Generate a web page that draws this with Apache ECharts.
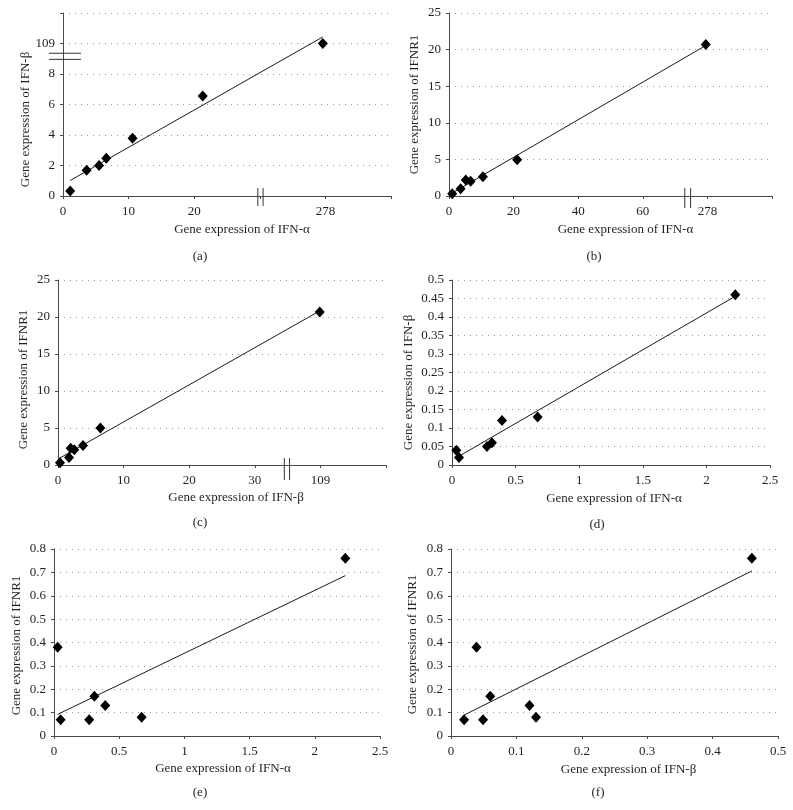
<!DOCTYPE html>
<html>
<head>
<meta charset="utf-8">
<script src="https://cdn.jsdelivr.net/npm/echarts@6/dist/echarts.min.js"></script>
<style>
html,body{margin:0;padding:0;background:#fff;}
#c{width:793px;height:810px;}
</style>
</head>
<body>
<div id="c"></div>
<script>
// ---- data ----
// (a) IFN-alpha vs IFN-beta (broken axes: x 40 -> "278", y 10 -> "109")
const xA = [1.1, 3.6, 5.5, 6.6, 10.6, 21.3, 39.6];
const yA = [0.33, 1.69, 2.0, 2.48, 3.78, 6.55, 10.0];
// (b) IFN-alpha vs IFNR1 (x 80 -> "278")
const xB = [1.0, 3.6, 5.2, 6.7, 10.5, 21.1, 79.5];
const yB = [0.32, 1.0, 2.19, 2.0, 2.64, 4.96, 20.7];
// (c) IFN-beta vs IFNR1 (x 40 -> "109")
const xC = [0.3, 1.68, 1.93, 2.49, 3.81, 6.46, 39.9];
const yC = [0.31, 1.03, 2.25, 2.07, 2.65, 4.99, 20.68];
// (d) IFN-alpha vs IFN-beta
const xD = [0.034, 0.055, 0.275, 0.314, 0.393, 0.673, 2.227];
const yD = [0.04, 0.02, 0.05, 0.06, 0.12, 0.13, 0.46];
// (e) IFN-alpha vs IFNR1
const xE = [0.028, 0.051, 0.27, 0.31, 0.393, 0.672, 2.234];
const yE = [0.38, 0.07, 0.07, 0.17, 0.13, 0.08, 0.76];
// (f) IFN-beta vs IFNR1
const xF = [0.02, 0.039, 0.049, 0.06, 0.12, 0.13, 0.46];
const yF = [0.07, 0.38, 0.07, 0.17, 0.13, 0.08, 0.76];

// tick label overrides for broken axes
const xTickA = {30: '', 40: '278', 50: ''};
const yTickA = {10: '109', 12: ''};
const xTickB = {80: '278', 100: ''};
const xTickC = {40: '109', 50: ''};

// axis-break positions (data units)
const yBreakA = [8.96, 9.36];
const xBreakA = [29.7, 30.5];
const xBreakB = [73.0, 74.8];
const xBreakC = [34.5, 35.3];

const captions = ['(a)', '(b)', '(c)', '(d)', '(e)', '(f)'];
const xNames = ['Gene expression of IFN-\u03B1', 'Gene expression of IFN-\u03B1', 'Gene expression of IFN-\u03B2',
                'Gene expression of IFN-\u03B1', 'Gene expression of IFN-\u03B1', 'Gene expression of IFN-\u03B2'];
const yNames = ['Gene expression of IFN-\u03B2', 'Gene expression of IFNR1', 'Gene expression of IFNR1',
                'Gene expression of IFN-\u03B2', 'Gene expression of IFNR1', 'Gene expression of IFNR1'];

// ---- chart ----
const FONT = '"Liberation Serif", "Times New Roman", serif';
const TXT = '#231f20';
const AX = '#4a4a4a';

function fit(xs, ys) {
  const n = xs.length;
  let mx = 0, my = 0;
  for (let i = 0; i < n; i++) { mx += xs[i]; my += ys[i]; }
  mx /= n; my /= n;
  let sxx = 0, sxy = 0;
  for (let i = 0; i < n; i++) { sxx += (xs[i] - mx) ** 2; sxy += (xs[i] - mx) * (ys[i] - my); }
  const m = sxy / sxx, b = my - m * mx;
  const x0 = Math.min(...xs), x1 = Math.max(...xs);
  return [[x0, b + m * x0], [x1, b + m * x1]];
}

function fmt(map) {
  return function (v) {
    const k = Math.round(v * 1000) / 1000;
    if (map && Object.prototype.hasOwnProperty.call(map, k)) return map[k];
    return String(k);
  };
}

const grids = [
  {left: 63, top: 13, width: 328, height: 183},
  {left: 449, top: 13, width: 323, height: 183},
  {left: 58, top: 280, width: 328, height: 185},
  {left: 452, top: 280, width: 318, height: 185},
  {left: 54, top: 549, width: 326, height: 187},
  {left: 451, top: 549, width: 327, height: 187}
];

const xCfg = [
  {min: 0, max: 50, interval: 10, map: xTickA},
  {min: 0, max: 100, interval: 20, map: xTickB},
  {min: 0, max: 50, interval: 10, map: xTickC},
  {min: 0, max: 2.5, interval: 0.5},
  {min: 0, max: 2.5, interval: 0.5},
  {min: 0, max: 0.5, interval: 0.1}
];
const yCfg = [
  {min: 0, max: 12, interval: 2, map: yTickA},
  {min: 0, max: 25, interval: 5},
  {min: 0, max: 25, interval: 5},
  {min: 0, max: 0.5, interval: 0.05},
  {min: 0, max: 0.8, interval: 0.1},
  {min: 0, max: 0.8, interval: 0.1}
];
const xGap = [27, 27, 26, 27, 26, 27];
const yGap = [28, 28, 28, 37, 31, 32];
const xPad = [[0,0,0,30],[0,0,0,30],[0,0,0,28],[0,0,0,6],[0,0,0,12],[0,0,0,28]];
const yPad = [[0,30,0,0],[0,0,0,0],[0,14,0,0],[0,20,0,0],[0,6,0,0],[0,4,0,0]];

const xs = [xA, xB, xC, xD, xE, xF];
const ys = [yA, yB, yC, yD, yE, yF];

const xAxis = [], yAxis = [], series = [];
for (let i = 0; i < 6; i++) {
  xAxis.push({
    type: 'value', gridIndex: i, min: xCfg[i].min, max: xCfg[i].max, interval: xCfg[i].interval,
    name: xNames[i], nameLocation: 'middle', nameGap: xGap[i],
    nameTextStyle: {fontFamily: FONT, fontSize: 13, color: TXT, padding: xPad[i]},
    axisLine: {show: true, onZero: false, lineStyle: {color: AX, width: 1}},
    axisTick: {show: true, length: 3, lineStyle: {color: AX}},
    splitLine: {show: false},
    axisLabel: {fontFamily: FONT, fontSize: 13, color: TXT, margin: 9, formatter: fmt(xCfg[i].map), showMaxLabel: true, showMinLabel: true, hideOverlap: false}
  });
  yAxis.push({
    type: 'value', gridIndex: i, min: yCfg[i].min, max: yCfg[i].max, interval: yCfg[i].interval,
    name: yNames[i], nameLocation: 'middle', nameGap: yGap[i],
    nameTextStyle: {fontFamily: FONT, fontSize: 13, color: TXT, padding: yPad[i]},
    axisLine: {show: true, onZero: false, lineStyle: {color: AX, width: 1}},
    axisTick: {show: true, length: 3, lineStyle: {color: AX}},
    splitLine: {show: true, lineStyle: {color: '#9a9a9a', type: [1, 5], width: 1}},
    axisLabel: {fontFamily: FONT, fontSize: 13, color: TXT, margin: 8, formatter: fmt(yCfg[i].map), showMaxLabel: true, hideOverlap: false}
  });
  series.push({
    type: 'line', xAxisIndex: i, yAxisIndex: i, data: fit(xs[i], ys[i]),
    showSymbol: false, symbol: 'none', silent: true, z: 2,
    lineStyle: {color: '#1a1a1a', width: 1}
  });
  series.push({
    type: 'scatter', xAxisIndex: i, yAxisIndex: i,
    data: xs[i].map((v, k) => [v, ys[i][k]]),
    symbol: 'diamond', symbolSize: [10, 11], z: 3,
    itemStyle: {color: '#000', opacity: 1}
  });
}

const capPos = [[200, 257], [594, 257], [200, 523], [597, 525], [200, 793], [598, 793]];
const graphics = captions.map((t, i) => ({
  type: 'text', x: capPos[i][0], y: capPos[i][1],
  style: {text: t, font: '13px ' + FONT, fill: TXT, textAlign: 'center', textVerticalAlign: 'middle'}
}));

const chart = echarts.init(document.getElementById('c'), null, {renderer: 'canvas'});
chart.setOption({
  animation: false,
  backgroundColor: '#fff',
  grid: grids,
  xAxis: xAxis,
  yAxis: yAxis,
  series: series,
  graphic: graphics
});

// axis-break marks positioned through the axes' own scales
const extra = [];
function hBreak(gi, vals) {
  vals.forEach(v => {
    const p = chart.convertToPixel({gridIndex: gi}, [0, v]);
    extra.push({type: 'line', shape: {x1: p[0] - 14, y1: p[1], x2: p[0] + 18, y2: p[1]}, style: {stroke: '#333', lineWidth: 1}, z: 10});
  });
}
function vBreak(gi, vals, up, down) {
  vals.forEach(v => {
    const p = chart.convertToPixel({gridIndex: gi}, [v, 0]);
    extra.push({type: 'line', shape: {x1: p[0], y1: p[1] - up, x2: p[0], y2: p[1] + down}, style: {stroke: '#333', lineWidth: 1}, z: 10});
  });
}
hBreak(0, yBreakA);
vBreak(0, xBreakA, 8, 10);
vBreak(1, xBreakB, 8, 12);
vBreak(2, xBreakC, 7, 15);
chart.setOption({graphic: graphics.concat(extra)});
</script>
</body>
</html>
